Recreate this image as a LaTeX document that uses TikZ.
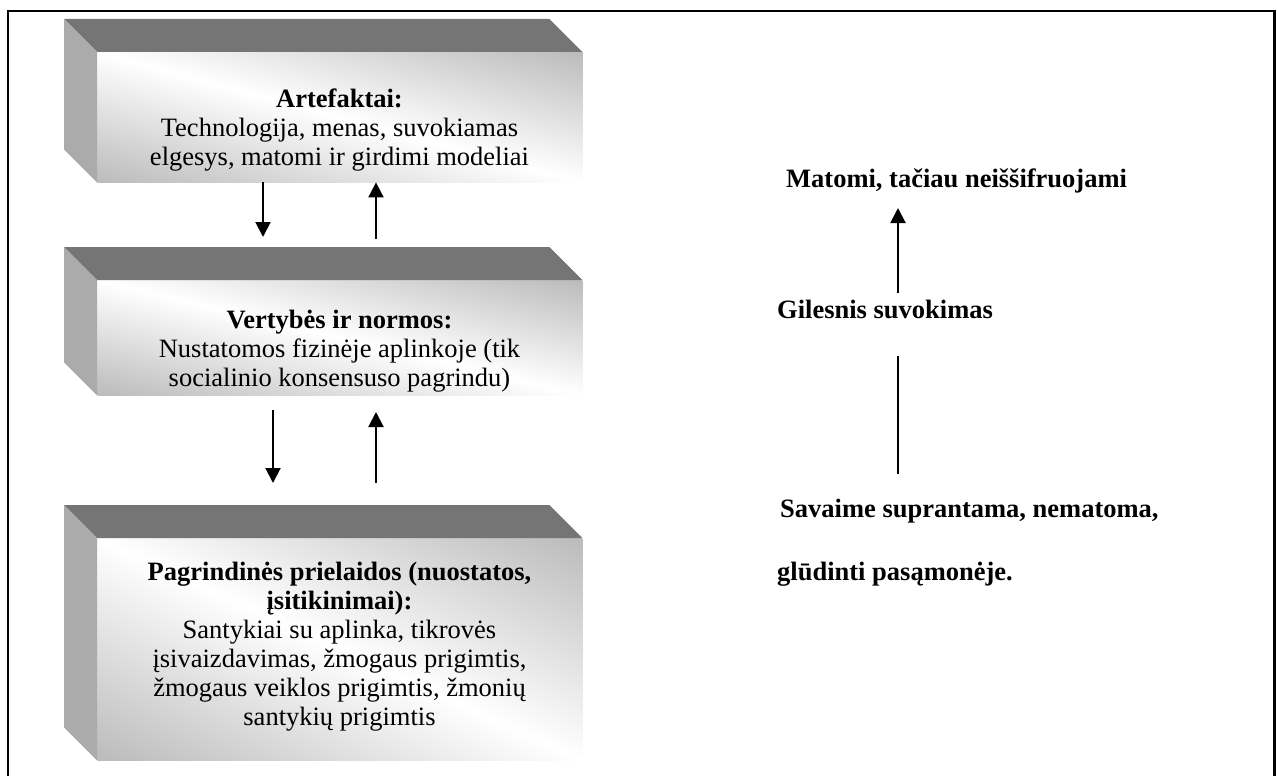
\documentclass[tikz,border=0pt]{standalone}
\usepackage{fontspec}
\setmainfont{Liberation Serif}
\usetikzlibrary{arrows.meta,calc}
\definecolor{topface}{HTML}{757575}
\definecolor{sideface}{HTML}{ABABAB}
\definecolor{frontgray}{HTML}{BBBBBB}
\tikzset{
  front/.style={draw=none, inner sep=0pt, minimum width=485pt},
  frontshade/.style={left color=frontgray, right color=frontgray, middle color=white},
  arr/.style={line width=2pt, -{Triangle[length=15pt,width=15pt]}},
  plainline/.style={line width=2pt},
  boxtext/.style={align=center, inner sep=0pt,
    font=\fontsize{26.5}{29}\selectfont},
  sidetext/.style={anchor=base west, inner sep=0pt,
    font=\fontsize{26.5}{29}\selectfont\bfseries},
  frame/.style={line width=2.5pt}
}
% a block seen from above-left: #1 name, #2 front top, #3 front height,
% #4 angle of the light band, #5 half width of the shading band
\newcommand\solidblock[5]{%
  \node[front, minimum height=#3pt, anchor=north west] (#1) at (97,#2) {};
  \begin{scope}
    \clip (#1.north west) rectangle (#1.south east);
    \shade[frontshade, transform canvas={rotate around={#4:(#1.center)}}]
      ($(#1.center)+(-#5,-400)$) rectangle ($(#1.center)+(#5,400)$);
  \end{scope}
  \fill[topface] (#1.north west) -- ++(-33,-33)
    -- ($(#1.north east)+(-33,-33)$) -- (#1.north east) -- cycle;
  \fill[sideface] (#1.north west) -- ++(-33,-33)
    -- ($(#1.south west)+(-33,-33)$) -- (#1.south west) -- cycle;
}
\begin{document}
\begin{tikzpicture}[x=1pt,y=-1pt]
\useasboundingbox (0,0) rectangle (1277,776);
\draw[frame] (8,790) -- (8,11) -- (1274.5,11) -- (1274.5,790);

% the three blocks
\solidblock{b1}{52}{130}{75}{126}
\solidblock{b2}{280}{115}{76.7}{112}
\solidblock{b3}{538}{222}{65.4}{202}

\node[boxtext] (t1) at (339.5,130)
  {\textbf{Artefaktai:}\\Technologija, menas, suvokiamas\\elgesys, matomi ir girdimi modeliai};
\node[boxtext] (t2) at (339.5,351)
  {\textbf{Vertybės ir normos:}\\Nustatomos fizinėje aplinkoje (tik\\socialinio konsensuso pagrindu)};
\node[boxtext] (t3) at (339.5,647)
  {\textbf{Pagrindinės prielaidos (nuostatos,}\\\textbf{įsitikinimai):}\\Santykiai su aplinka, tikrovės\\įsivaizdavimas, žmogaus prigimtis,\\žmogaus veiklos prigimtis, žmonių\\santykių prigimtis};

% arrows between the blocks
\coordinate (d1) at (263,237);
\coordinate (u1) at (376,239);
\draw[arr] (b1.south -| d1) -- (d1);
\draw[arr] (u1) -- (u1 |- b1.south);
\coordinate (d2s) at (273,410);
\coordinate (d2e) at (273,483);
\coordinate (u2s) at (376,483);
\coordinate (u2e) at (376,412);
\draw[arr] (d2s) -- (d2e);
\draw[arr] (u2s) -- (u2e);

% right-hand column
\node[sidetext] (vis) at (786,187) {Matomi, tačiau neiššifruojami};
\node[sidetext] (deep) at (777,318) {Gilesnis suvokimas};
\node[sidetext] (hid1) at (780,517) {Savaime suprantama, nematoma,};
\node[sidetext] (hid2) at (777,580) {glūdinti pasąmonėje.};
\coordinate (r1s) at (898,293);
\coordinate (r1e) at (898,208);
\coordinate (r2s) at (898,474);
\coordinate (r2e) at (898,356);
\draw[arr] (r1s) -- (r1e);
\draw[plainline] (r2s) -- (r2e);
\end{tikzpicture}
\end{document}
